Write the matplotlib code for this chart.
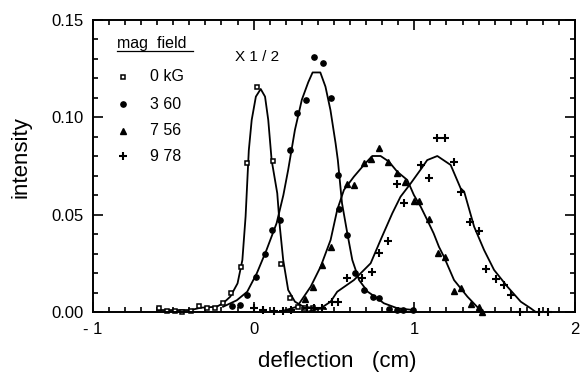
import matplotlib
matplotlib.use("Agg")
import matplotlib.pyplot as plt
from matplotlib.ticker import MultipleLocator, FixedLocator

plt.rcParams["font.family"] = ["Liberation Sans", "DejaVu Sans"]

# measured points (deflection cm, intensity)
sq_x = [-0.59, -0.54, -0.49, -0.445, -0.39, -0.34, -0.29, -0.24, -0.19, -0.138,
        -0.08, -0.04, 0.02, 0.12, 0.168, 0.226, 0.278, 0.32, 0.37]
sq_y = [0.0019, 0.0007, 0.0007, 0.0002, 0.0007, 0.003, 0.0019, 0.0019, 0.0045, 0.0096,
        0.023, 0.0767, 0.1157, 0.0776, 0.0245, 0.007, 0.0027, 0.0019, 0.0019]

ci_x = [-0.136, -0.085, -0.044, 0.014, 0.07, 0.116, 0.163, 0.226, 0.27, 0.325, 0.373,
        0.43, 0.48, 0.525, 0.53, 0.583, 0.63, 0.685, 0.74, 0.78, 0.84, 0.89, 0.93, 0.99]
ci_y = [0.003, 0.0036, 0.0087, 0.018, 0.030, 0.042, 0.047, 0.083, 0.1024, 0.109, 0.131,
        0.128, 0.110, 0.0704, 0.053, 0.0395, 0.0199, 0.0113, 0.0079, 0.007, 0.0014, 0.001,
        0.001, 0.001]

tr_x = [0.32, 0.37, 0.425, 0.48, 0.583, 0.625, 0.685, 0.73, 0.78, 0.836, 0.895, 0.94,
        0.997, 1.03, 1.09, 1.146, 1.19, 1.247, 1.29, 1.35, 1.4, 1.42]
tr_y = [0.0065, 0.013, 0.024, 0.0335, 0.0656, 0.065, 0.0764, 0.0784, 0.0844, 0.077,
        0.0712, 0.067, 0.057, 0.057, 0.0478, 0.0305, 0.0284, 0.0108, 0.0122, 0.0041,
        0.0024, 0.0]

cr_x = [0.0, 0.06, 0.125, 0.18, 0.23, 0.334, 0.375, 0.428, 0.486, 0.527, 0.583, 0.677,
        0.738, 0.78, 0.838, 0.894, 0.936, 1.04, 1.09, 1.143, 1.19, 1.247, 1.29, 1.346,
        1.4, 1.446, 1.506, 1.558, 1.6, 1.66, 1.776, 1.83]
cr_y = [0.002, 0.001, 0.0005, 0.0005, 0.001, 0.002, 0.002, 0.002, 0.005, 0.005, 0.0173,
        0.0173, 0.0207, 0.0302, 0.0365, 0.0657, 0.0558, 0.0753, 0.069, 0.0895, 0.0895,
        0.077, 0.0618, 0.0464, 0.0415, 0.0222, 0.0172, 0.014, 0.0089, 0.0002, 0.0, 0.0]

# fitted curves
sq_fit_x = [-0.59, -0.39, -0.33, -0.23, -0.19, -0.145, -0.1, -0.07, -0.05, -0.03, -0.012,
            0.014, 0.044, 0.071, 0.091, 0.112, 0.147, 0.163, 0.184, 0.215, 0.257, 0.31,
            0.395, 0.45]
sq_fit_y = [0.001, 0.001, 0.0022, 0.0027, 0.0045, 0.0079, 0.0147, 0.0267, 0.049, 0.083,
            0.0986, 0.1106, 0.1145, 0.1106, 0.0986, 0.078, 0.061, 0.0438, 0.0267, 0.0113,
            0.0053, 0.0027, 0.0019, 0.0015]

ci_fit_x = [-0.19, -0.105, -0.04, 0.02, 0.08, 0.143, 0.185, 0.215, 0.257, 0.3, 0.34,
            0.367, 0.415, 0.447, 0.478, 0.51, 0.524, 0.55, 0.583, 0.614, 0.656, 0.71,
            0.77, 0.81, 0.895, 0.997]
ci_fit_y = [0.0027, 0.006, 0.0104, 0.0199, 0.0318, 0.0456, 0.06, 0.073, 0.0935, 0.109,
            0.118, 0.123, 0.123, 0.1157, 0.1037, 0.0866, 0.078, 0.0558, 0.0404, 0.0267,
            0.0164, 0.0104, 0.007, 0.0045, 0.0019, 0.001]

tr_fit_x = [0.157, 0.27, 0.355, 0.417, 0.479, 0.52, 0.562, 0.624, 0.686, 0.738, 0.79,
            0.842, 0.894, 0.956, 0.997, 1.04, 1.08, 1.12, 1.153, 1.184, 1.247, 1.33, 1.39,
            1.42]
tr_fit_y = [0.0, 0.0027, 0.013, 0.0233, 0.037, 0.0524, 0.0627, 0.0695, 0.0755, 0.0801,
            0.0801, 0.0772, 0.072, 0.0678, 0.0601, 0.054, 0.0473, 0.0404, 0.0335, 0.0284,
            0.0164, 0.0079, 0.0027, 0.0005]

cr_fit_x = [0.33, 0.417, 0.479, 0.52, 0.624, 0.728, 0.79, 0.863, 0.914, 0.977, 1.045,
            1.08, 1.143, 1.226, 1.288, 1.31, 1.372, 1.434, 1.496, 1.579, 1.662, 1.724,
            1.755]
cr_fit_y = [0.0, 0.0019, 0.0053, 0.0104, 0.0164, 0.025, 0.037, 0.0507, 0.0592, 0.066,
            0.0738, 0.078, 0.0801, 0.0755, 0.0635, 0.0618, 0.0438, 0.0318, 0.0216, 0.013,
            0.0053, 0.0019, 0.0]

legend_labels = ["0 kG", "3 60", "7 56", "9 78"]

fig = plt.figure(figsize=(5.88, 3.75), dpi=100)
ax = fig.add_axes([0.158, 0.168, 0.82, 0.779])

for fx, fy in [(sq_fit_x, sq_fit_y), (ci_fit_x, ci_fit_y),
               (tr_fit_x, tr_fit_y), (cr_fit_x, cr_fit_y)]:
    ax.plot(fx, fy, color="black", lw=1.3)

styles = [
    dict(marker="s", ms=3.3, mfc="white", mec="black", mew=1.1),
    dict(marker="o", ms=3.8, mfc="black", mec="black"),
    dict(marker="^", ms=4.4, mfc="black", mec="black"),
    dict(marker="+", ms=5.5, mec="black", mew=1.5),
]
series = [(sq_x, sq_y), (ci_x, ci_y), (tr_x, tr_y), (cr_x, cr_y)]
for (sx, sy), st in zip(series, styles):
    ax.plot(sx, sy, ls="none", clip_on=False, **st)

ax.set_xlim(-1, 2)
ax.set_ylim(0, 0.15)
ax.xaxis.set_major_locator(FixedLocator([-1, 0, 1, 2]))
ax.set_xticklabels(["- 1", "0", "1", "2"])
ax.xaxis.set_minor_locator(MultipleLocator(0.1))
ax.yaxis.set_major_locator(FixedLocator([0, 0.05, 0.10, 0.15]))
ax.set_yticklabels(["0.00", "0.05", "0.10", "0.15"])
ax.yaxis.set_minor_locator(MultipleLocator(0.01))

ax.tick_params(which="both", direction="in", top=True, right=True,
               labelsize=12, width=1.2)
ax.tick_params(which="major", length=7, pad=7)
ax.tick_params(which="minor", length=3.5)
for s in ax.spines.values():
    s.set_linewidth(1.4)

ax.set_xlabel("deflection   (cm)", fontsize=16)
ax.xaxis.set_label_coords(0.506, -0.135)
ax.set_ylabel("intensity", fontsize=16)
ax.yaxis.set_label_coords(-0.128, 0.53)

# hand-drawn legend
tr = ax.transAxes
ax.text(0.05, 0.904, "mag  field", transform=tr, fontsize=11.5, va="baseline", ha="left")
ax.plot([0.05, 0.207], [0.893, 0.893], transform=tr, color="black", lw=0.9)
leg_y = [0.805, 0.712, 0.620, 0.534]
for yy, lab, st in zip(leg_y, legend_labels, styles):
    ax.plot([0.062], [yy], transform=tr, ls="none", **st)
    ax.text(0.118, yy, lab, transform=tr, fontsize=11.5, va="center", ha="left")

ax.text(0.02, 0.131, "X 1 / 2", fontsize=11, ha="center", va="center")

fig.savefig("out.png", dpi=100)
